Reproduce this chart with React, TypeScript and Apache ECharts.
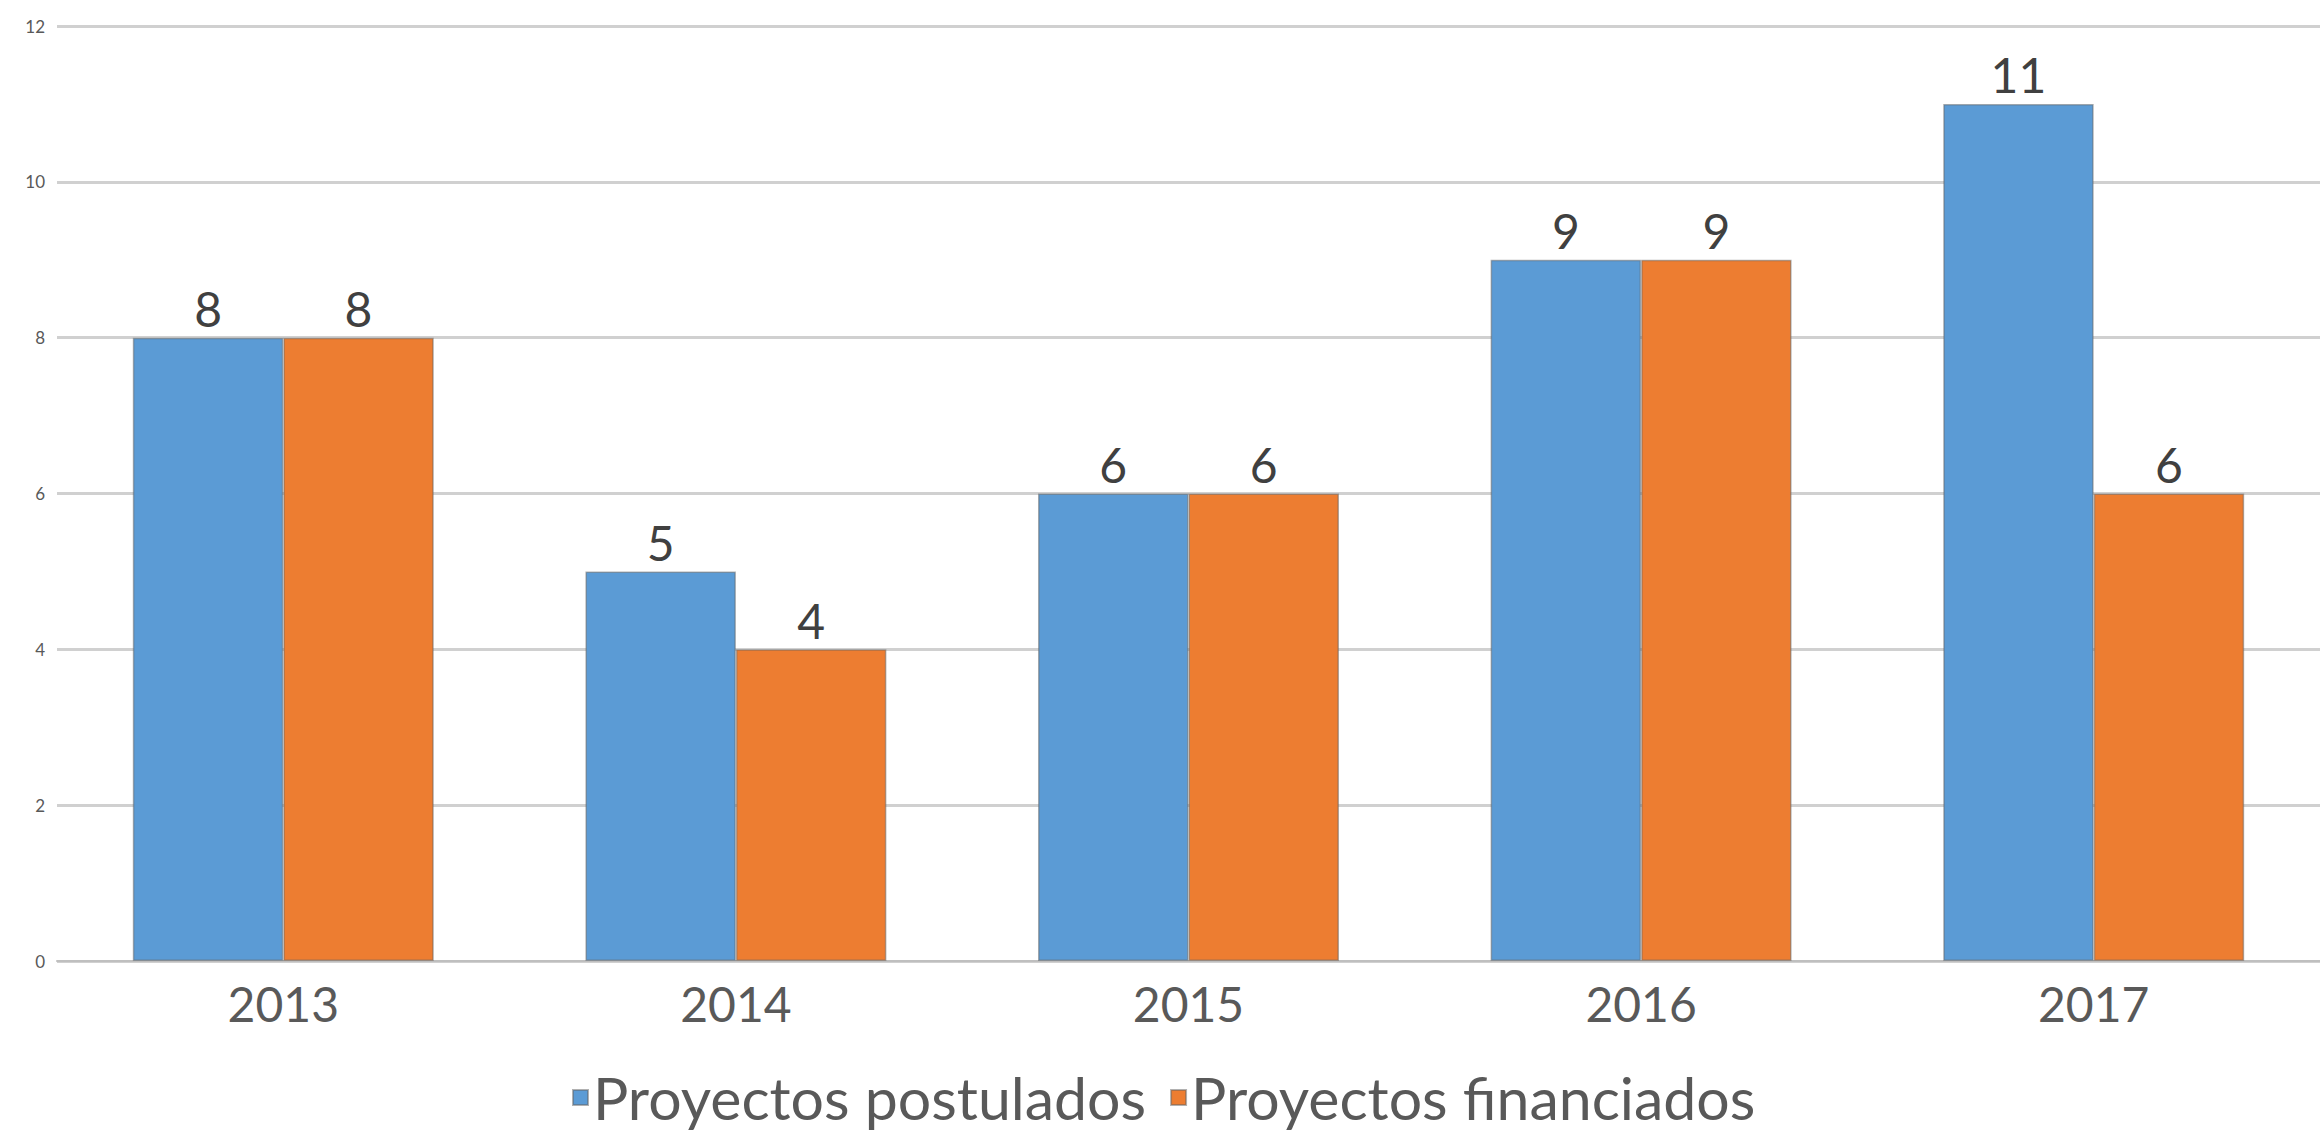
import React, { useEffect, useRef } from "react";
import * as echarts from "echarts";

const categories = ["2013", "2014", "2015", "2016", "2017"];
const postulados = [8, 5, 6, 9, 11];
const financiados = [8, 4, 6, 9, 6];
const seriesNames = ["Proyectos postulados", "Proyectos financiados"];

const FONT = "Lato, 'Open Sans', sans-serif";

export default function App() {
  const ref = useRef<HTMLDivElement>(null);
  useEffect(() => {
    if (!ref.current) return;
    const chart = echarts.init(ref.current, undefined, { renderer: "svg" });
    const labelCfg = {
      show: true,
      position: "top",
      distance: 5,
      fontSize: 48,
      color: "#404040",
      fontFamily: FONT,
    };
    chart.setOption({
      animation: false,
      backgroundColor: "#ffffff",
      textStyle: { fontFamily: FONT },
      grid: { left: 57, top: 26, bottom: 180, width: 2267, containLabel: false },
      legend: {
        data: seriesNames,
        left: 572,
        top: 1068,
        padding: 0,
        icon: "rect",
        itemWidth: 15,
        itemHeight: 15,
        itemGap: 24,
        textStyle: { fontSize: 59, lineHeight: 59, color: "#595959", fontFamily: FONT },
      },
      xAxis: {
        type: "category",
        data: categories,
        axisTick: { show: false },
        axisLine: { lineStyle: { color: "#bfbfbf", width: 2 } },
        axisLabel: { fontSize: 48, color: "#595959", margin: 18, fontFamily: FONT },
      },
      yAxis: {
        type: "value",
        min: 0,
        max: 12,
        interval: 2,
        axisLine: { show: false },
        axisTick: { show: false },
        axisLabel: { fontSize: 17, color: "#595959", margin: 12, fontFamily: FONT },
        splitLine: { lineStyle: { color: "#d0d0d0", width: 3 } },
      },
      series: [
        {
          name: seriesNames[0],
          type: "bar",
          data: postulados,
          barGap: "0%",
          barCategoryGap: "33.5%",
          itemStyle: { color: "#5B9BD5", borderColor: "rgba(100,100,100,0.5)", borderWidth: 1.5 },
          label: labelCfg,
        },
        {
          name: seriesNames[1],
          type: "bar",
          data: financiados,
          barGap: "0%",
          barCategoryGap: "33.5%",
          itemStyle: { color: "#ED7D31", borderColor: "rgba(100,100,100,0.5)", borderWidth: 1.5 },
          label: labelCfg,
        },
      ],
    });
    return () => chart.dispose();
  }, []);
  return (
    <div
      ref={ref}
      style={{ position: "absolute", left: 0, top: 0, width: 2320, height: 1141 }}
    />
  );
}
